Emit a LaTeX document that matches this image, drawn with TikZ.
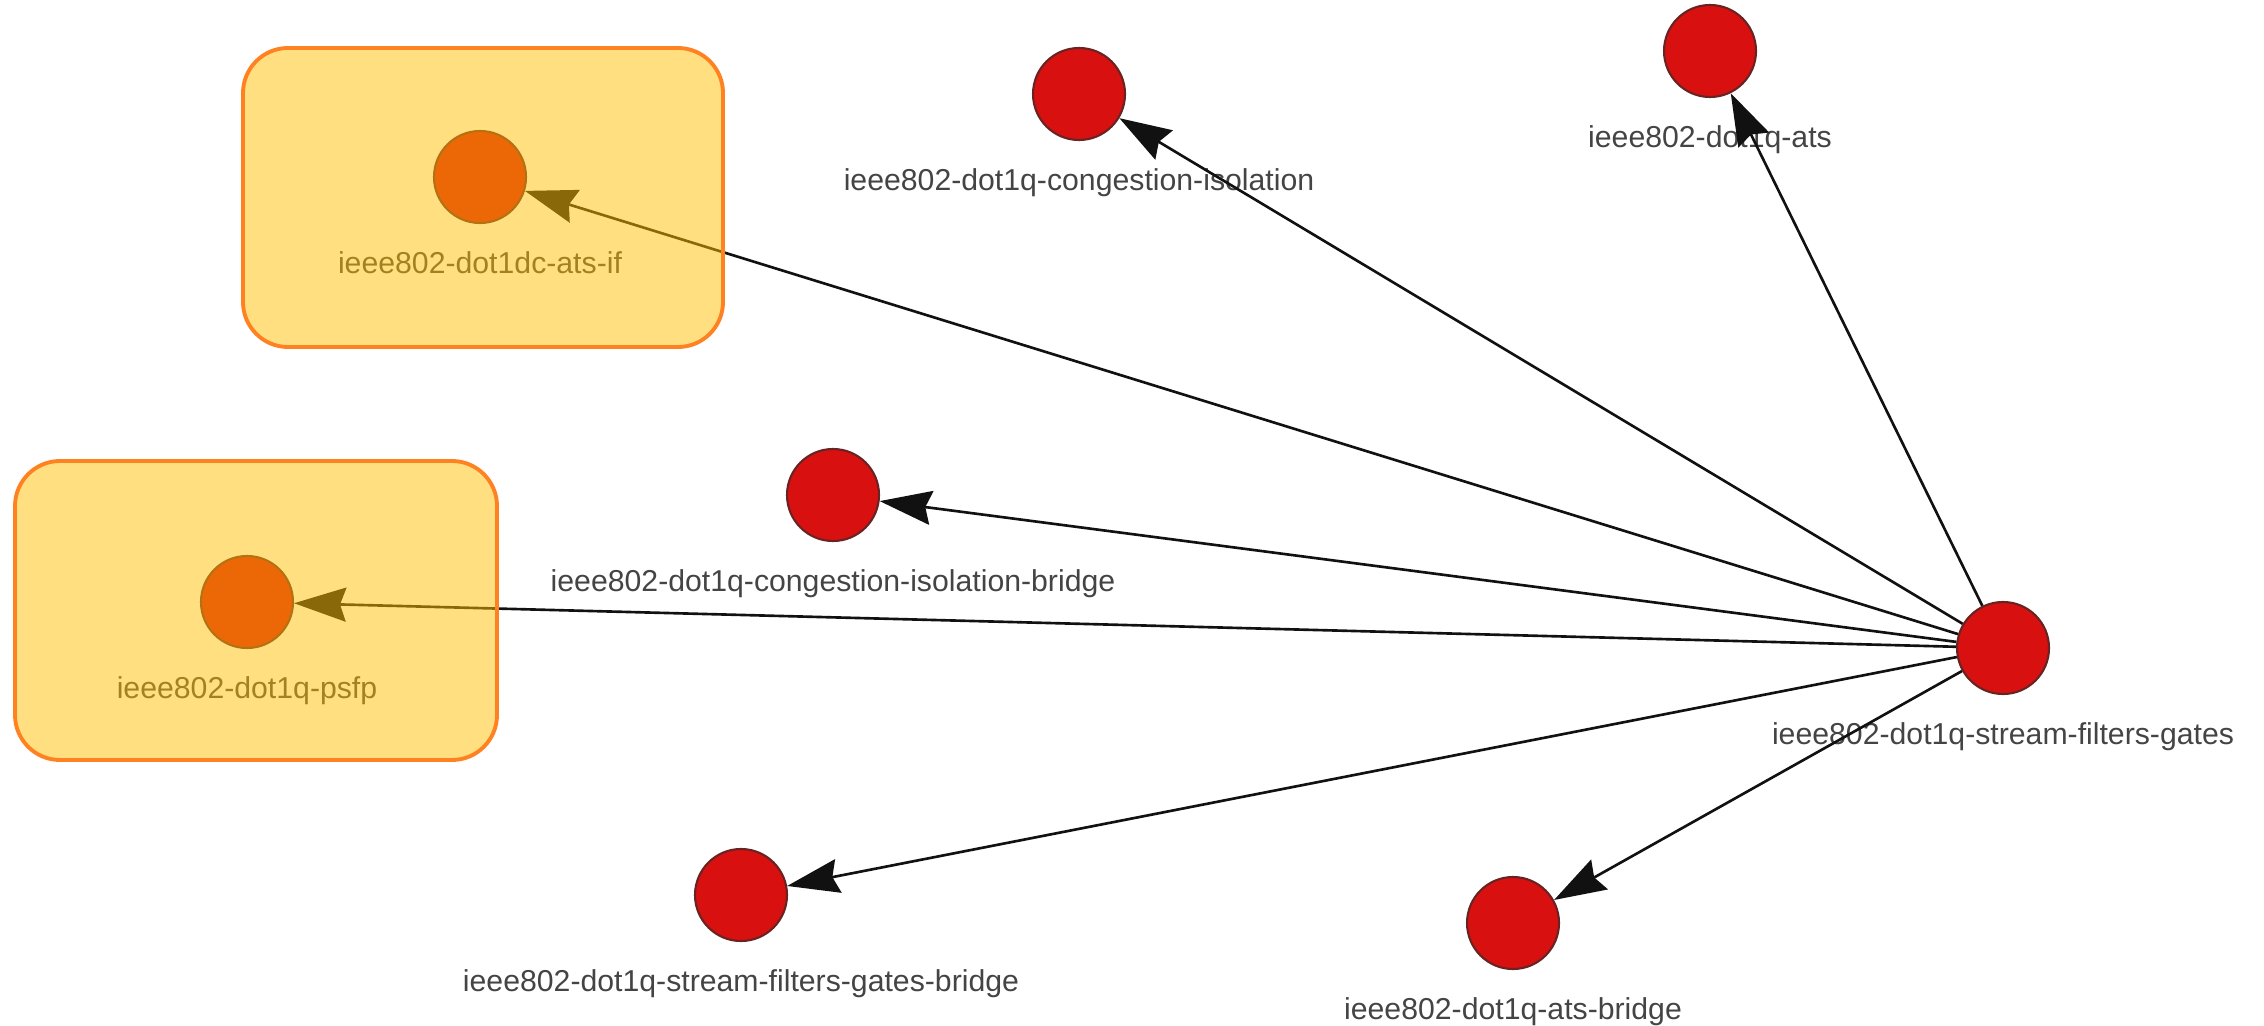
\documentclass[tikz,border=0pt]{standalone}
\usepackage{fontspec}
\setmainfont{Liberation Sans}
\usetikzlibrary{arrows.meta}

\definecolor{nodered}{RGB}{217,16,16}
\definecolor{nodeedge}{RGB}{105,35,35}
\definecolor{labelgray}{RGB}{68,68,68}
\definecolor{groupfill}{RGB}{255,192,0}
\definecolor{groupedge}{RGB}{255,130,34}
\definecolor{depgray}{RGB}{17,17,17}

\begin{document}
\begin{tikzpicture}[
		every node/.style={circle, draw=nodeedge, fill=nodered, line width=0.6pt, minimum size=0.92cm, inner sep=0pt},
		every label/.append style={rectangle, draw=none, fill=none, minimum size=0pt, text=labelgray, font=\fontsize{8.6}{10}\selectfont, text height=6.2pt, text depth=0pt},
		label distance=0.27cm,
		dep/.style={draw=depgray, line width=0.75pt, -{Stealth[length=0.52cm, width=0.34cm, inset=0.06cm]}},
		group/.style={rectangle, rounded corners=0.45cm, draw=groupedge, fill=groupfill, fill opacity=0.5, line width=1.1pt}
	]
  \useasboundingbox (0,0) rectangle (22.64,-10.25);
  \node (sfg) [label=below:{ieee802-dot1q-stream-filters-gates}] at (20.03cm, -6.48cm) {};
  \node (ats) [label=below:{ieee802-dot1q-ats}] at (17.10cm, -0.51cm) {};
  \node (ci) [label=below:{ieee802-dot1q-congestion-isolation}] at (10.79cm, -0.94cm) {};
  \node (cib) [label=below:{ieee802-dot1q-congestion-isolation-bridge}] at (8.33cm, -4.95cm) {};
  \node (atsif) [label=below:{ieee802-dot1dc-ats-if}] at (4.80cm, -1.77cm) {};
  \node (psfp) [label=below:{ieee802-dot1q-psfp}] at (2.47cm, -6.02cm) {};
  \node (sfgb) [label=below:{ieee802-dot1q-stream-filters-gates-bridge}] at (7.41cm, -8.95cm) {};
  \node (atsb) [label=below:{ieee802-dot1q-ats-bridge}] at (15.13cm, -9.23cm) {};
  \draw[dep] (sfg) -- (ats);
  \draw[dep] (sfg) -- (ci);
  \draw[dep] (sfg) -- (atsif);
  \draw[dep] (sfg) -- (cib);
  \draw[dep] (sfg) -- (psfp);
  \draw[dep] (sfg) -- (sfgb);
  \draw[dep] (sfg) -- (atsb);
  \node (atsif_box) [group, minimum width=4.8cm, minimum height=2.99cm] at (4.83cm, -1.975cm) {};
  \node (psfp_box) [group, minimum width=4.82cm, minimum height=2.99cm] at (2.56cm, -6.105cm) {};
\end{tikzpicture}
\end{document}
